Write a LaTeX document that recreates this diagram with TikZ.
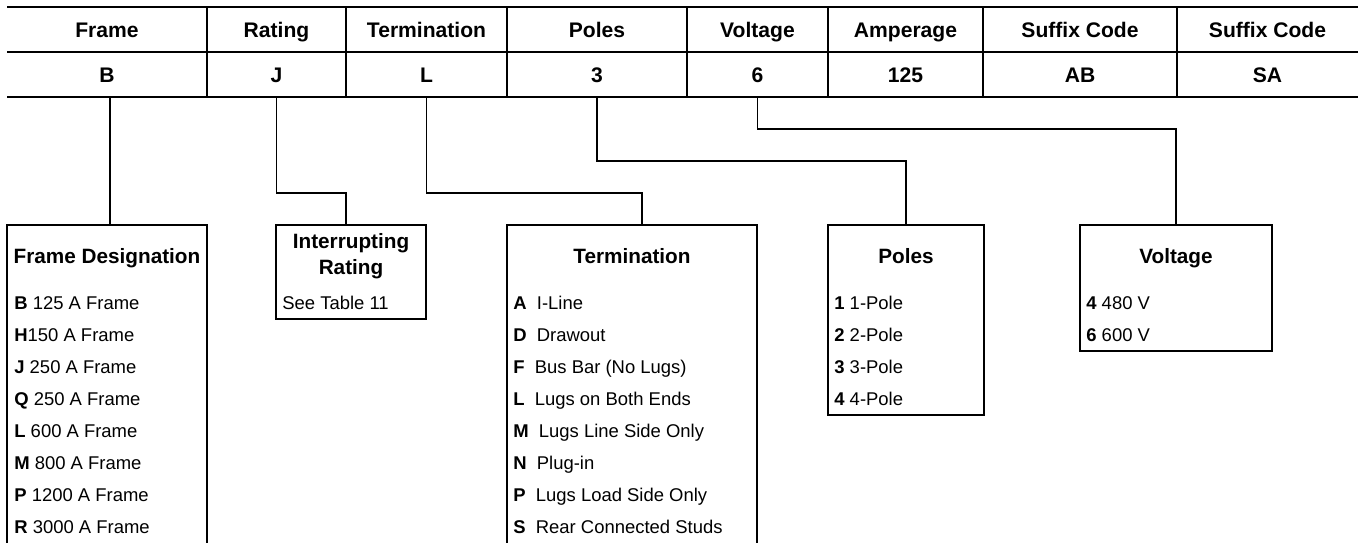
\documentclass[tikz,border=0pt]{standalone}
\usepackage{fontspec}
\setmainfont{Liberation Sans}
\usetikzlibrary{calc}

\tikzset{
  rule/.style={line width=0.6pt},
  heavy/.style={line width=1.3pt},
  cell/.style={inner sep=0pt, outer sep=0pt, minimum height=0.9cm, text height=8.6pt, text depth=0pt, font=\fontsize{12}{14}\selectfont\bfseries},
  box/.style={draw, line width=0.75pt, anchor=north west, inner sep=0pt, outer sep=0pt},
  title/.style={inner sep=0pt, text height=8.45pt, text depth=0pt, font=\fontsize{11.8}{14.8}\selectfont\bfseries},
  item/.style={anchor=base west, inner sep=0pt, font=\fontsize{10.5}{12}\selectfont}
}

\begin{document}
\begin{tikzpicture}[x=0.02cm, y=-0.02cm]
        \useasboundingbox (0,0) rectangle (1366,542);
        \clip (0,0) rectangle (1366,542);

        % header row
        \node[cell, minimum width=4cm]    (hFrame) at (107,29.5)   {Frame};
        \node[cell, minimum width=2.78cm] (hRating) at (276.5,29.5) {Rating};
        \node[cell, minimum width=3.22cm] (hTerm) at (426.5,29.5)  {Termination};
        \node[cell, minimum width=3.6cm]  (hPoles) at (597,29.5)   {Poles};
        \node[cell, minimum width=2.82cm] (hVolt) at (757.5,29.5)  {Voltage};
        \node[cell, minimum width=3.1cm]  (hAmp) at (905.5,29.5)   {Amperage};
        \node[cell, minimum width=3.88cm] (hSufA) at (1080,29.5)   {Suffix Code};
        \node[cell, minimum width=3.62cm] (hSufB) at (1267.5,29.5) {Suffix Code};

        % code row
        \node[cell, minimum width=4cm]    (B) at (107,74.5)    {B};
        \node[cell, minimum width=2.78cm] (J) at (276.5,74.5)  {J};
        \node[cell, minimum width=3.22cm] (L) at (426.5,74.5)  {L};
        \node[cell, minimum width=3.6cm]  (P3) at (597,74.5)   {3};
        \node[cell, minimum width=2.82cm] (V6) at (757.5,74.5) {6};
        \node[cell, minimum width=3.1cm]  (A125) at (905.5,74.5) {125};
        \node[cell, minimum width=3.88cm] (AB) at (1080,74.5)  {AB};
        \node[cell, minimum width=3.62cm] (SA) at (1267.5,74.5) {SA};

        \draw[heavy] (hFrame.north west) -- (hSufB.north east);
        \draw[rule] (hFrame.south west) -- (hSufB.south east);
        \draw[heavy] (B.south west) -- (SA.south east);
        \draw[rule] (hFrame.north east) -- (B.south east);
        \draw[rule] (hRating.north east) -- (J.south east);
        \draw[rule] (hTerm.north east) -- (L.south east);
        \draw[rule] (hPoles.north east) -- (P3.south east);
        \draw[rule] (hVolt.north east) -- (V6.south east);
        \draw[rule] (hAmp.north east) -- (A125.south east);
        \draw[rule] (hSufA.north east) -- (AB.south east);

        % option boxes
        \node[box, minimum width=4cm, minimum height=7cm]     (FD) at (7,225) {};
        \node[box, minimum width=3cm, minimum height=1.88cm]  (IR) at (276,225) {};
        \node[box, minimum width=5cm, minimum height=7cm]     (TM) at (507,225) {};
        \node[box, minimum width=3.12cm, minimum height=3.8cm] (PL) at (828,225) {};
        \node[box, minimum width=3.84cm, minimum height=2.52cm] (VT) at (1080,225) {};

        \draw[rule] ([xshift=0.06cm]B.south) -- ([xshift=0.06cm]B.south |- FD.north);
        \draw[rule] (J.south) -- ++(0,96) -| ([xshift=-0.1cm]IR.north);
        \draw[rule] (L.south) -- ++(0,96) -| ([xshift=0.2cm]TM.north);
        \draw[rule] (P3.south) -- ++(0,64) -| (PL.north);
        \draw[rule] (V6.south) -- ++(0,32) -| (VT.north);

        \node[title] (FDt) at (107,256) {Frame Designation};
        \node[title, align=center, text height=, text depth=] (IRt) at (351,256.5) {Interrupting\\Rating};
        \node[title] (TMt) at (632,256) {Termination};
        \node[title] (PLt) at (906,256) {Poles};
        \node[title] (VTt) at (1176,256) {Voltage};

        \node[item] (FD1) at (14,309) {\textbf{B} 125 A Frame};
        \node[item] (FD2) at (14,341) {\textbf{H}150 A Frame};
        \node[item] (FD3) at (14,373) {\textbf{J} 250 A Frame};
        \node[item] (FD4) at (14,405) {\textbf{Q} 250 A Frame};
        \node[item] (FD5) at (14,437) {\textbf{L} 600 A Frame};
        \node[item] (FD6) at (14,469) {\textbf{M} 800 A Frame};
        \node[item] (FD7) at (14,501) {\textbf{P} 1200 A Frame};
        \node[item] (FD8) at (14,533) {\textbf{R} 3000 A Frame};

        \node[item] (IR1) at (282,309) {See Table 11};

        \node[item] (TM1) at (513,309) {\textbf{A}\ \ I-Line};
        \node[item] (TM2) at (513,341) {\textbf{D}\ \ Drawout};
        \node[item] (TM3) at (513,373) {\textbf{F}\ \ Bus Bar (No Lugs)};
        \node[item] (TM4) at (513,405) {\textbf{L}\ \ Lugs on Both Ends};
        \node[item] (TM5) at (513,437) {\textbf{M}\ \ Lugs Line Side Only};
        \node[item] (TM6) at (513,469) {\textbf{N}\ \ Plug-in};
        \node[item] (TM7) at (513,501) {\textbf{P}\ \ Lugs Load Side Only};
        \node[item] (TM8) at (513,533) {\textbf{S}\ \ Rear Connected Studs};

        \node[item] (PL1) at (834,309) {\textbf{1} 1-Pole};
        \node[item] (PL2) at (834,341) {\textbf{2} 2-Pole};
        \node[item] (PL3) at (834,373) {\textbf{3} 3-Pole};
        \node[item] (PL4) at (834,405) {\textbf{4} 4-Pole};

        \node[item] (VT1) at (1086,309) {\textbf{4} 480 V};
        \node[item] (VT2) at (1086,341) {\textbf{6} 600 V};
    \end{tikzpicture}
\end{document}
